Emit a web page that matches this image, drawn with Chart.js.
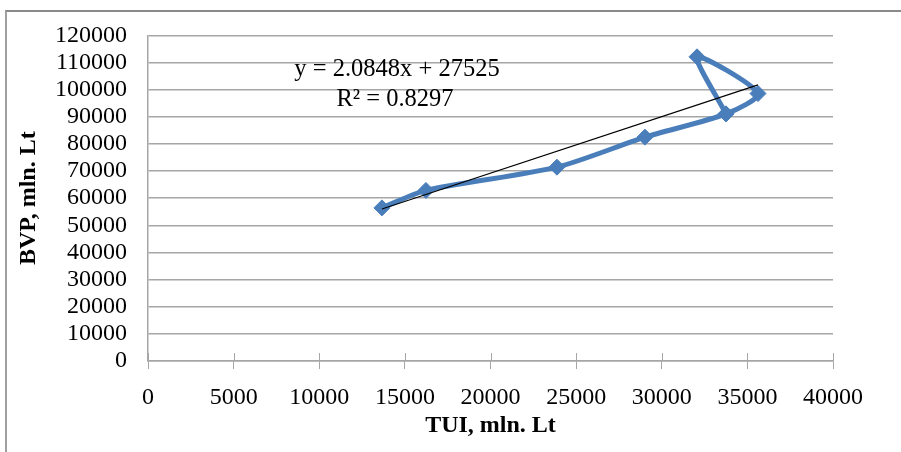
<!DOCTYPE html>
<html>
<head>
<meta charset="utf-8">
<script src="https://cdn.jsdelivr.net/npm/chart.js@4.4.1/dist/chart.umd.min.js"></script>
<style>
  html, body { margin: 0; padding: 0; background: #fff; }
  #wrap { position: relative; width: 901px; height: 452px; overflow: hidden; }
  #frame { position: absolute; left: 5px; top: 10px; width: 930px; height: 470px; border-top: 2px solid #8a8a8a; border-left: 2px solid #a0a0a0; }
  canvas { position: absolute; left: 0; top: 0; }
</style>
</head>
<body>
<div id="wrap">
  <div id="frame"></div>
  <canvas id="tuiChart" width="901" height="452"></canvas>
</div>
<script>
// TUI vs BVP (mln. Lt), points in the order they are joined
const tuiValues = [13660, 16230, 23880, 29020, 33750, 35620, 32060, 33750];
const bvpValues = [56430, 62860, 71430, 82500, 91070, 98570, 112100, 91070];

const xTicks = [0, 5000, 10000, 15000, 20000, 25000, 30000, 35000, 40000];
const yTicks = [0, 10000, 20000, 30000, 40000, 50000, 60000, 70000, 80000, 90000, 100000, 110000, 120000];

// linear trendline as shown on the chart
const trendSlope = 2.0848;
const trendIntercept = 27525;
const trendText = ["y = 2.0848x + 27525", "R\u00b2 = 0.8297"];

const serif = "'Liberation Serif', 'Times New Roman', serif";
const gridColor = "#a6a6a6";
const blue = "#4a7ebb";

const points = tuiValues.map((x, i) => ({ x: x, y: bvpValues[i] }));
const xMin = Math.min(...tuiValues);
const xMax = Math.max(...tuiValues);
const trendPoints = [
  { x: xMin, y: trendSlope * xMin + trendIntercept },
  { x: xMax, y: trendSlope * xMax + trendIntercept },
];

// ticks crossing the x axis + trendline equation
const extras = {
  id: "extras",
  beforeDatasetsDraw(chart) {
    const ctx = chart.ctx;
    const xs = chart.scales.x;
    const area = chart.chartArea;
    ctx.save();
    ctx.strokeStyle = gridColor;
    ctx.lineWidth = 1;
    xTicks.forEach((v) => {
      const px = Math.round(xs.getPixelForValue(v)) + 0.5;
      ctx.beginPath();
      ctx.moveTo(px, area.bottom);
      ctx.lineTo(px, area.bottom - 8);
      ctx.stroke();
    });
    ctx.restore();
  },
  afterDatasetsDraw(chart) {
    const ctx = chart.ctx;
    ctx.save();
    ctx.fillStyle = "#000";
    ctx.font = "24.5px " + serif;
    ctx.textAlign = "center";
    ctx.textBaseline = "alphabetic";
    ctx.fillText(trendText[0], 397, 76);
    ctx.fillText(trendText[1], 395, 106);
    ctx.restore();
  },
};

const plain = (v) => String(v);

const ctx = document.getElementById("tuiChart").getContext("2d");

const tuiChart = new Chart(ctx, {
  type: "scatter",
  data: {
    datasets: [
      {
        label: "Linear trend",
        data: trendPoints,
        showLine: true,
        borderColor: "#000",
        borderWidth: 1.2,
        pointRadius: 0,
        tension: 0,
      },
      {
        label: "BVP",
        data: points,
        showLine: true,
        borderColor: blue,
        backgroundColor: blue,
        borderWidth: 5,
        tension: 0.25,
        pointStyle: "rectRot",
        pointRadius: 8,
        pointBorderWidth: 1,
        pointBackgroundColor: blue,
        pointBorderColor: blue,
      },
    ],
  },
  options: {
    responsive: false,
    animation: false,
    devicePixelRatio: 1,
    layout: {
      padding: { left: 0, top: 25, right: 68, bottom: 0 },
    },
    plugins: {
      legend: { display: false },
      tooltip: { enabled: false },
    },
    scales: {
      x: {
        type: "linear",
        min: xTicks[0],
        max: xTicks[xTicks.length - 1],
        ticks: {
          stepSize: xTicks[1] - xTicks[0],
          autoSkip: false,
          callback: plain,
          color: "#000",
          font: { family: serif, size: 24 },
          padding: 14,
          maxRotation: 0,
        },
        grid: {
          drawOnChartArea: false,
          drawTicks: true,
          tickLength: 8,
          color: gridColor,
        },
        border: { display: true, color: gridColor, width: 1.5 },
        title: {
          display: true,
          text: "TUI, mln. Lt",
          color: "#000",
          font: { family: serif, size: 24, weight: "bold" },
          padding: { top: 0, bottom: 12 },
        },
        afterFit(scale) {
          scale.height = 91;
        },
      },
      y: {
        type: "linear",
        min: yTicks[0],
        max: yTicks[yTicks.length - 1],
        ticks: {
          stepSize: yTicks[1] - yTicks[0],
          autoSkip: false,
          callback: plain,
          color: "#000",
          font: { family: serif, size: 24 },
          padding: 21,
        },
        grid: {
          drawTicks: false,
          color: gridColor,
          lineWidth: 1.5,
        },
        border: { display: true, color: gridColor, width: 1.5 },
        title: {
          display: true,
          text: "BVP, mln. Lt",
          color: "#000",
          font: { family: serif, size: 24, weight: "bold" },
          padding: { top: 14, bottom: 0 },
        },
        afterFit(scale) {
          scale.width = 148;
        },
      },
    },
  },
  plugins: [extras],
});
</script>
</body>
</html>
